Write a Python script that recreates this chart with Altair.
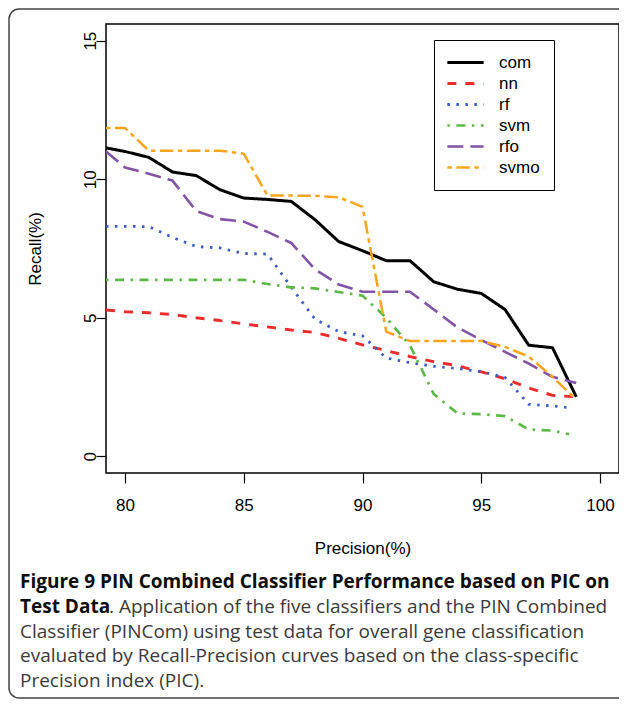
import altair as alt
import pandas as pd

# ---- data ----
methods = ["com", "nn", "rf", "svm", "rfo", "svmo"]
colors = ["#000000", "#EE2B2B", "#3B5CC4", "#5CB946", "#8353A6", "#F8A51E"]

prec_common = [79.2, 80, 81, 82, 83, 84, 85, 86, 87, 88, 89, 90, 91, 92, 93, 94, 95, 96, 97, 98, 99]
com = [11.13, 11.0, 10.79, 10.26, 10.13, 9.62, 9.32, 9.27, 9.2, 8.54, 7.75, 7.42, 7.06, 7.06, 6.3, 6.03, 5.88, 5.3, 4.01, 3.92, 2.15]
nn = [5.28, 5.22, 5.18, 5.12, 5.0, 4.9, 4.78, 4.67, 4.56, 4.47, 4.26, 4.02, 3.82, 3.6, 3.42, 3.27, 3.05, 2.8, 2.47, 2.2, 2.15]
rfo = [11.0, 10.42, 10.2, 9.95, 8.85, 8.56, 8.47, 8.1, 7.7, 6.75, 6.2, 5.94, 5.94, 5.94, 5.3, 4.65, 4.2, 3.77, 3.35, 2.87, 2.65]
svmo = [11.85, 11.85, 11.03, 11.03, 11.03, 11.03, 10.92, 9.41, 9.41, 9.4, 9.35, 9.0, 4.5, 4.16, 4.16, 4.16, 4.16, 3.95, 3.6, 2.87, 2.05]

prec_rf = [79.2, 80, 81, 82, 83, 84, 85, 86, 87, 88, 89, 90, 91, 92, 93, 94, 95, 96, 97, 98, 98.8]
rf = [8.3, 8.3, 8.29, 7.9, 7.57, 7.52, 7.32, 7.3, 6.1, 4.95, 4.5, 4.35, 3.55, 3.38, 3.25, 3.17, 3.05, 2.85, 1.88, 1.82, 1.75]

prec_svm = [79.2, 80, 81, 82, 83, 84, 85, 86, 87, 88, 89, 90, 91, 92, 93, 94, 95, 96, 97, 98, 98.7]
svm = [6.37, 6.37, 6.37, 6.37, 6.37, 6.37, 6.37, 6.22, 6.1, 6.06, 5.93, 5.8, 5.0, 4.0, 2.25, 1.55, 1.52, 1.45, 0.97, 0.93, 0.8]

x_ticks = [80, 85, 90, 95, 100]
y_ticks = [0, 5, 10, 15]

caption_bold_1 = "Figure 9 PIN Combined Classifier Performance based on PIC on"
caption_bold_2 = "Test Data"
caption_reg_2 = ". Application of the five classifiers and the PIN Combined"
caption_reg_3 = "Classifier (PINCom) using test data for overall gene classification"
caption_reg_4 = "evaluated by Recall-Precision curves based on the class-specific"
caption_reg_5 = "Precision index (PIC)."

series = {
    "com": (prec_common, com),
    "nn": (prec_common, nn),
    "rf": (prec_rf, rf),
    "svm": (prec_svm, svm),
    "rfo": (prec_common, rfo),
    "svmo": (prec_common, svmo),
}
rows = []
for name, (xs, ys) in series.items():
    for i, (xv, yv) in enumerate(zip(xs, ys)):
        rows.append({"method": name, "precision": xv, "recall": yv, "order": i})
df = pd.DataFrame(rows)

# ---- styling ----
dashes = [[1, 0], [9, 9], [2.5, 6.5], [2.5, 6.5, 9, 6.5], [16, 7], [4.5, 4.5, 13.5, 4.5]]
widths = [3, 2.5, 2.5, 2.5, 2.5, 2.5]
AX_FONT = "Liberation Sans"
CAP_FONT = "Open Sans"
CAP_SIZE = 19
FRAME = "#444444"

legend = alt.Legend(
    title=None,
    orient="none",
    legendX=328,
    legendY=16,
    strokeColor="black",
    fillColor="white",
    padding=14,
    symbolType="M-3.3,0H3.3",
    symbolSize=121,
    symbolStrokeWidth=2.5,
    symbolOffset=9,
    labelFont=AX_FONT,
    labelFontSize=17,
    labelColor="black",
    labelOffset=25,
    rowPadding=3,
)

lines = alt.Chart(df).mark_line(clip=True, strokeCap="butt", strokeJoin="round").encode(
    x=alt.X(
        "precision:Q",
        scale=alt.Scale(domain=[79.2, 100.8], nice=False, zero=False),
        axis=alt.Axis(values=x_ticks, title="Precision(%)", labelPadding=14, titlePadding=27),
    ),
    y=alt.Y(
        "recall:Q",
        scale=alt.Scale(domain=[-0.6, 15.6], nice=False, zero=False),
        axis=alt.Axis(values=y_ticks, title="Recall(%)", labelAngle=270, labelAlign="center",
                      labelBaseline="alphabetic", labelPadding=1, titlePadding=37),
    ),
    color=alt.Color("method:N", scale=alt.Scale(domain=methods, range=colors), legend=legend),
    strokeDash=alt.StrokeDash("method:N", scale=alt.Scale(domain=methods, range=dashes), legend=legend),
    strokeWidth=alt.StrokeWidth("method:N", scale=alt.Scale(domain=methods, range=widths), legend=None),
    order="order:Q",
)

one = alt.Data(values=[{}])

# outer figure frame (left side, top, bottom and two rounded corners; right side off-page)
frame_top = alt.Chart(one).mark_rule(color=FRAME, strokeWidth=1.5).encode(
    x=alt.value(-87), x2=alt.value(513), y=alt.value(-15))
frame_bottom = alt.Chart(one).mark_rule(color=FRAME, strokeWidth=1.5).encode(
    x=alt.value(-87), x2=alt.value(513), y=alt.value(674))
frame_left = alt.Chart(one).mark_rule(color=FRAME, strokeWidth=1.5).encode(
    x=alt.value(-97), y=alt.value(-5), y2=alt.value(664))
corner_tl = alt.Chart(one).mark_arc(
    radius=10.75, radius2=9.25, theta=4.71239, theta2=6.28319, color=FRAME
).encode(x=alt.value(-87), y=alt.value(-5))
corner_bl = alt.Chart(one).mark_arc(
    radius=10.75, radius2=9.25, theta=3.14159, theta2=4.71239, color=FRAME
).encode(x=alt.value(-87), y=alt.value(664))


def txt(s, x, y, bold=False):
    return alt.Chart(one).mark_text(
        align="left", baseline="middle", font=CAP_FONT, fontSize=CAP_SIZE,
        fontWeight="bold" if bold else "normal",
        color="#0d0d0d" if bold else "#3a3a3a",
    ).encode(x=alt.value(x), y=alt.value(y), text=alt.value(s))


caps = [
    txt(caption_bold_1, -86, 558, True),
    txt(caption_bold_2, -86, 583, True),
    txt(caption_reg_2, 3, 583),
    txt(caption_reg_3, -86, 608),
    txt(caption_reg_4, -86, 632),
    txt(caption_reg_5, -86, 657),
]

chart = alt.layer(
    frame_top, frame_bottom, frame_left, corner_tl, corner_bl, lines, *caps
).properties(
    width=513,
    height=449,
    autosize=alt.AutoSizeParams(type="none"),
    padding={"left": 98, "top": 16, "right": 0, "bottom": 227},
).configure_view(
    stroke="black", strokeWidth=1.5
).configure_axis(
    domain=False, grid=False, ticks=True, tickSize=10, tickColor="black", tickWidth=1.2,
    labelFont=AX_FONT, labelFontSize=17, labelColor="black",
    titleFont=AX_FONT, titleFontSize=17, titleColor="black", titleFontWeight="normal",
)

chart.save("out.html", embed_options={"renderer": "svg", "actions": False})
